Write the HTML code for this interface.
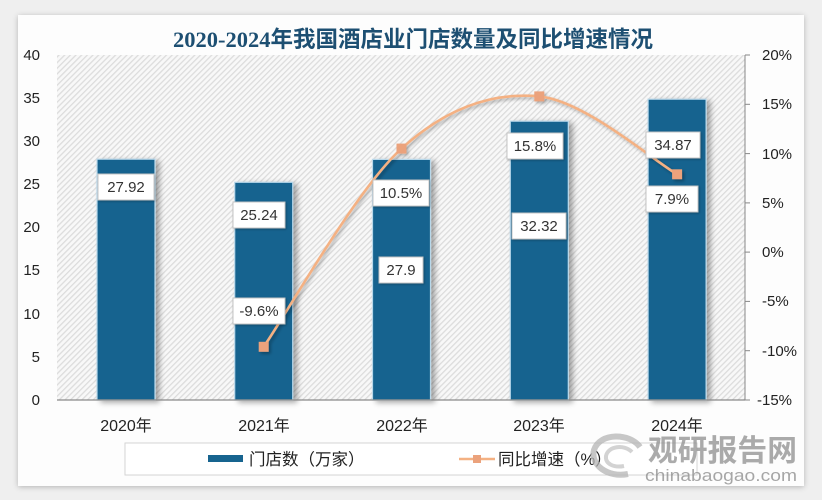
<!DOCTYPE html>
<html><head><meta charset="utf-8">
<style>
html,body{margin:0;padding:0;background:#efefef;}
svg{display:block;}
text{font-family:"Liberation Sans","Noto Sans CJK SC",sans-serif;}
</style></head>
<body>
<svg width="822" height="500" viewBox="0 0 822 500" xmlns="http://www.w3.org/2000/svg">
<defs>
  <pattern id="hatch" patternUnits="userSpaceOnUse" width="4" height="4" patternTransform="rotate(45)">
    <rect width="4" height="4" fill="#f8f8f8"/>
    <rect x="0" y="0" width="1.3" height="4" fill="#dcdcdc"/>
  </pattern>
  <filter id="cardsh" x="-5%" y="-5%" width="110%" height="110%">
    <feGaussianBlur in="SourceAlpha" stdDeviation="3"/>
    <feOffset dx="0" dy="1"/>
    <feComponentTransfer><feFuncA type="linear" slope="0.25"/></feComponentTransfer>
    <feMerge><feMergeNode/><feMergeNode in="SourceGraphic"/></feMerge>
  </filter>
  <filter id="barsh" x="-30%" y="-10%" width="160%" height="120%">
    <feGaussianBlur in="SourceAlpha" stdDeviation="3"/>
    <feOffset dx="4" dy="2"/>
    <feComponentTransfer><feFuncA type="linear" slope="0.35"/></feComponentTransfer>
    <feMerge><feMergeNode/><feMergeNode in="SourceGraphic"/></feMerge>
  </filter>
  <filter id="lsh" x="-10%" y="-10%" width="120%" height="120%">
    <feGaussianBlur in="SourceAlpha" stdDeviation="1.5"/>
    <feOffset dx="2" dy="2"/>
    <feComponentTransfer><feFuncA type="linear" slope="0.3"/></feComponentTransfer>
    <feMerge><feMergeNode/><feMergeNode in="SourceGraphic"/></feMerge>
  </filter>
  <filter id="boxsh" x="-10%" y="-20%" width="130%" height="150%">
    <feGaussianBlur in="SourceAlpha" stdDeviation="1"/>
    <feOffset dx="1" dy="1"/>
    <feComponentTransfer><feFuncA type="linear" slope="0.25"/></feComponentTransfer>
    <feMerge><feMergeNode/><feMergeNode in="SourceGraphic"/></feMerge>
  </filter>
</defs>

<!-- card -->
<rect x="18" y="15" width="786" height="471" fill="#fdfdfd" filter="url(#cardsh)"/>

<!-- title -->
<text x="413" y="47" text-anchor="middle" font-size="22.5" font-weight="bold" fill="#1d4f72" style='font-family:"Liberation Serif","Noto Sans CJK SC",sans-serif;'>2020-2024年我国酒店业门店数量及同比增速情况</text>

<!-- plot area -->
<rect x="57" y="55" width="688" height="345" fill="url(#hatch)"/>

<!-- left axis labels -->
<g font-size="15" fill="#222" text-anchor="end">
  <text x="40" y="60">40</text>
  <text x="40" y="103">35</text>
  <text x="40" y="146">30</text>
  <text x="40" y="189">25</text>
  <text x="40" y="232">20</text>
  <text x="40" y="275">15</text>
  <text x="40" y="319">10</text>
  <text x="40" y="362">5</text>
  <text x="40" y="405">0</text>
</g>

<!-- right axis -->
<line x1="745" y1="55" x2="745" y2="400" stroke="#888" stroke-width="1"/>
<g stroke="#888" stroke-width="1">
  <line x1="745" y1="55" x2="750" y2="55"/>
  <line x1="745" y1="104.3" x2="750" y2="104.3"/>
  <line x1="745" y1="153.6" x2="750" y2="153.6"/>
  <line x1="745" y1="202.9" x2="750" y2="202.9"/>
  <line x1="745" y1="252.1" x2="750" y2="252.1"/>
  <line x1="745" y1="301.4" x2="750" y2="301.4"/>
  <line x1="745" y1="350.7" x2="750" y2="350.7"/>
  <line x1="745" y1="400" x2="750" y2="400"/>
</g>
<g font-size="15" fill="#222">
  <text x="762" y="60">20%</text>
  <text x="762" y="109">15%</text>
  <text x="762" y="159">10%</text>
  <text x="762" y="208">5%</text>
  <text x="762" y="257">0%</text>
  <text x="762" y="306">-5%</text>
  <text x="762" y="356">-10%</text>
  <text x="757" y="405">-15%</text>
</g>

<!-- bars -->
<g fill="#17648f" stroke="#b9d8ea" stroke-width="1.2" filter="url(#barsh)">
  <rect x="97" y="159.2" width="58" height="240.8"/>
  <rect x="234.7" y="182.3" width="58" height="217.7"/>
  <rect x="372.5" y="159.4" width="58" height="240.6"/>
  <rect x="510.3" y="121.2" width="58" height="278.8"/>
  <rect x="648.1" y="99.2" width="58" height="300.8"/>
</g>

<!-- x axis -->
<line x1="57" y1="400" x2="745" y2="400" stroke="#8a8a8a" stroke-width="1.2"/>
<g font-size="16" fill="#222" text-anchor="middle">
  <text x="126" y="431">2020年</text>
  <text x="264" y="431">2021年</text>
  <text x="402" y="431">2022年</text>
  <text x="539" y="431">2023年</text>
  <text x="677" y="431">2024年</text>
</g>

<!-- line series -->
<g filter="url(#lsh)">
  <path d="M263.7,346.8 C286.7,313.8 355.6,190.3 401.5,148.6 C447.4,106.9 493.4,92.1 539.3,96.4 C585.2,100.7 654.1,161.3 677.1,174.3" fill="none" stroke="#f4b183" stroke-width="2.6"/>
  <g fill="#eba27c">
    <rect x="258.7" y="341.8" width="10" height="10"/>
    <rect x="396.5" y="143.6" width="10" height="10"/>
    <rect x="534.3" y="91.4" width="10" height="10"/>
    <rect x="672.1" y="169.3" width="10" height="10"/>
  </g>
</g>

<!-- data labels -->
<g filter="url(#boxsh)" fill="#ffffff" stroke="#c4c4c4" stroke-width="1">
  <rect x="98" y="174" width="56" height="26"/>
  <rect x="233" y="202" width="52" height="26"/>
  <rect x="233" y="298" width="52" height="26"/>
  <rect x="373" y="180" width="56" height="26"/>
  <rect x="379" y="257" width="44" height="26"/>
  <rect x="507" y="133" width="56" height="26"/>
  <rect x="512" y="213" width="54" height="26"/>
  <rect x="646" y="132" width="54" height="26"/>
  <rect x="646" y="186" width="52" height="26"/>
</g>
<g font-size="15" fill="#333" text-anchor="middle">
  <text x="126" y="192">27.92</text>
  <text x="259" y="220">25.24</text>
  <text x="259" y="316">-9.6%</text>
  <text x="401" y="198">10.5%</text>
  <text x="401" y="275">27.9</text>
  <text x="535" y="151">15.8%</text>
  <text x="539" y="231">32.32</text>
  <text x="673" y="150">34.87</text>
  <text x="672" y="204">7.9%</text>
</g>

<!-- legend -->
<rect x="125" y="443" width="572" height="32" fill="#ffffff" stroke="#d4d4d4" stroke-width="1"/>
<rect x="208" y="455" width="35" height="7" fill="#17648f"/>
<text x="249" y="465" font-size="16.5" fill="#222">门店数（万家）</text>
<line x1="459" y1="459" x2="495" y2="459" stroke="#f4b183" stroke-width="2.5"/>
<rect x="473" y="455" width="8" height="8" fill="#eba27c"/>
<text x="498" y="465" font-size="16.5" fill="#222">同比增速（%）</text>

<!-- watermark -->
<g opacity="0.75">
  <path d="M640,447 C630,433 600,432 594,450 C590,465 608,478 628,474" fill="none" stroke="#b5b5b5" stroke-width="6"/>
  <path d="M632,452 C624,444 608,446 606,456 C605,464 614,468 624,466" fill="none" stroke="#c5c5c5" stroke-width="4"/>
  <text x="648" y="461" font-size="30" font-weight="bold" fill="#8f8f8f" textLength="149" lengthAdjust="spacingAndGlyphs">观研报告网</text>
  <text x="645" y="481" font-size="17" fill="#8a8a8a" textLength="152" lengthAdjust="spacingAndGlyphs">chinabaogao.com</text>
</g>
</svg>
</body></html>
